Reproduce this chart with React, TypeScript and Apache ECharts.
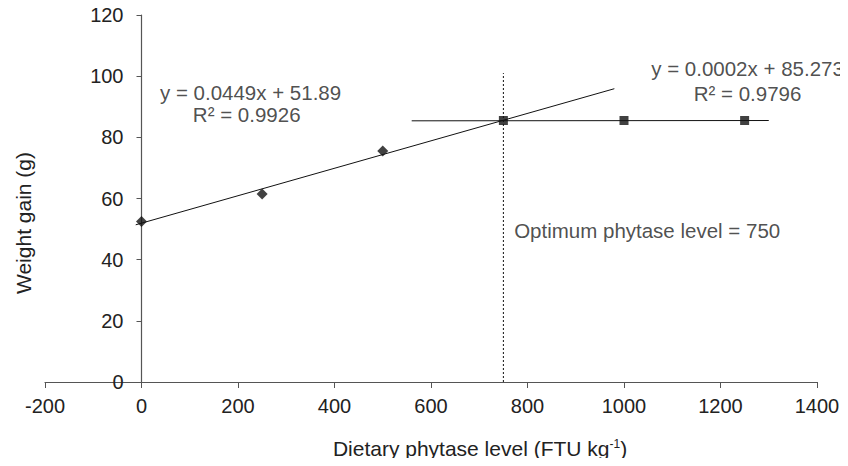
import React, { useEffect, useRef } from "react";
import * as echarts from "echarts";

const xTicks = { min: -200, max: 1400, interval: 200 };
const yTicks = { min: 0, max: 120, interval: 20 };

const diamondPoints: [number, number][] = [
  [0, 52.5],
  [250, 61.5],
  [500, 75.5],
];
const squarePoints: [number, number][] = [
  [750, 85.5],
  [1000, 85.5],
  [1250, 85.5],
];
const trendLine1: [number, number][] = [
  [-12, 51.4],
  [980, 95.9],
];
const trendLine2: [number, number][] = [
  [560, 85.4],
  [1300, 85.5],
];
const optimumLine: [number, number][] = [
  [750, 0],
  [750, 101],
];
const annotations: [number, number, string][] = [
  [226, 94.7, "y = 0.0449x + 51.89"],
  [218, 87.6, "R² = 0.9926"],
  [1256, 102.4, "y = 0.0002x + 85.273"],
  [1256, 94.2, "R² = 0.9796"],
  [1048, 49.4, "Optimum phytase level = 750"],
];
const xName = "Dietary phytase level (FTU kg{sup|-1})";
const yName = "Weight gain (g)";

const FONT = "'Liberation Sans', Arial, sans-serif";
const TEXT = "#222";
const AXIS = "#555";

const GRID = { left: 45, right: 31, top: 15, bottom: 84 };
const W = 848;
const H = 466;

export default function App() {
  const ref = useRef<HTMLDivElement>(null);
  useEffect(() => {
    if (!ref.current) return;
    const chart = echarts.init(ref.current, null, { renderer: "svg" });
    const plotW = W - GRID.left - GRID.right;
    const yAxisOffset = -((0 - xTicks.min) / (xTicks.max - xTicks.min)) * plotW;
    chart.setOption({
      animation: false,
      backgroundColor: "#fff",
      textStyle: { fontFamily: FONT },
      grid: { ...GRID, containLabel: false },
      xAxis: {
        type: "value",
        min: xTicks.min,
        max: xTicks.max,
        interval: xTicks.interval,
        splitLine: { show: false },
        axisLine: { onZero: true, lineStyle: { color: AXIS, width: 1.2 } },
        axisTick: { show: true, length: 6, lineStyle: { color: AXIS } },
        axisLabel: {
          color: TEXT,
          fontSize: 20,
          fontFamily: FONT,
          margin: 14,
          formatter: (v: number) => String(v),
        },
      },
      yAxis: {
        type: "value",
        min: yTicks.min,
        max: yTicks.max,
        interval: yTicks.interval,
        offset: yAxisOffset,
        splitLine: { show: false },
        axisLine: { onZero: false, lineStyle: { color: AXIS, width: 1.2 } },
        axisTick: { show: true, length: 5, lineStyle: { color: AXIS } },
        axisLabel: {
          color: TEXT,
          fontSize: 20,
          fontFamily: FONT,
          margin: 18,
          formatter: (v: number) => String(v),
        },
      },
      graphic: [
        {
          type: "text",
          x: 23,
          y: 223,
          rotation: Math.PI / 2,
          style: {
            text: yName,
            fill: TEXT,
            font: `21px ${FONT}`,
            align: "center",
            verticalAlign: "middle",
          },
        },
        {
          type: "text",
          x: 480,
          y: 448,
          style: {
            text: xName,
            fill: TEXT,
            fontSize: 21,
            fontFamily: FONT,
            align: "center",
            verticalAlign: "middle",
            rich: {
              sup: {
                fontSize: 12,
                fontFamily: FONT,
                fill: TEXT,
                verticalAlign: "top",
              },
            },
          },
        },
      ],
      series: [
        {
          type: "line",
          data: trendLine1,
          symbol: "none",
          lineStyle: { color: "#111", width: 1 },
          z: 2,
        },
        {
          type: "line",
          data: trendLine2,
          symbol: "none",
          lineStyle: { color: "#111", width: 1 },
          z: 2,
        },
        {
          type: "line",
          data: optimumLine,
          symbol: "none",
          lineStyle: { color: "#111", width: 1, type: [2, 2] },
          z: 2,
        },
        {
          type: "scatter",
          data: diamondPoints,
          symbol: "diamond",
          symbolSize: 11,
          itemStyle: { color: "#111" },
          z: 3,
        },
        {
          type: "scatter",
          data: squarePoints,
          symbol: "rect",
          symbolSize: 9,
          itemStyle: { color: "#111" },
          z: 3,
        },
        {
          type: "scatter",
          data: annotations,
          symbolSize: 0,
          silent: true,
          label: {
            show: true,
            position: "inside",
            formatter: (p: any) => p.data[2],
            color: TEXT,
            fontSize: 20.5,
            lineHeight: 20,
            fontFamily: FONT,
          },
          z: 4,
        },
      ],
    });
    return () => chart.dispose();
  }, []);
  return <div ref={ref} style={{ width: W, height: H, margin: -8 }} />;
}
